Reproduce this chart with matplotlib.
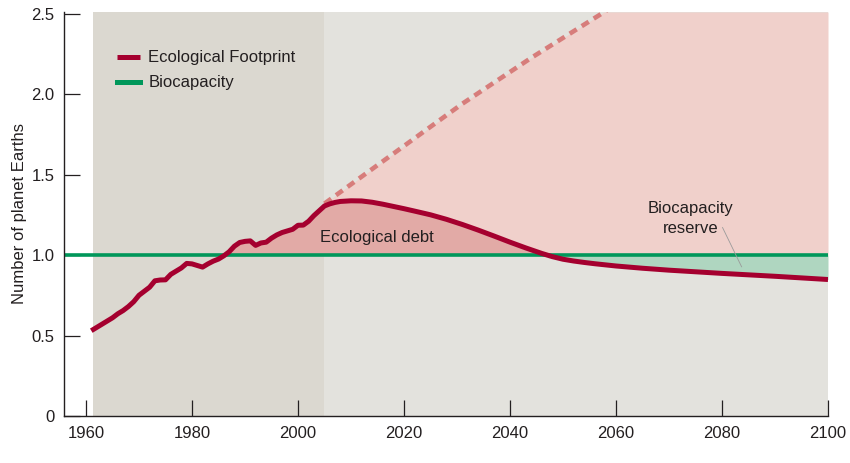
import matplotlib
matplotlib.use("Agg")
import matplotlib.pyplot as plt
import numpy as np

plt.rcParams['font.family'] = ['Liberation Sans', 'DejaVu Sans']

# ---- data ----
hist_years = [1961, 1962, 1963, 1964, 1965, 1966, 1967, 1968, 1969, 1970,
              1971, 1972, 1973, 1974, 1975, 1976, 1977, 1978, 1979, 1980,
              1981, 1982, 1983, 1984, 1985, 1986, 1987, 1988, 1989, 1990,
              1991, 1992, 1993, 1994, 1995, 1996, 1997, 1998, 1999, 2000,
              2001, 2002, 2003, 2004, 2005]
hist_values = [0.53, 0.55, 0.57, 0.59, 0.61, 0.635, 0.655, 0.68, 0.71, 0.75,
               0.775, 0.80, 0.84, 0.845, 0.846, 0.88, 0.90, 0.92, 0.948, 0.945,
               0.935, 0.925, 0.945, 0.962, 0.975, 0.995, 1.02, 1.055, 1.078, 1.085,
               1.088, 1.06, 1.075, 1.08, 1.105, 1.125, 1.14, 1.15, 1.16, 1.185,
               1.186, 1.21, 1.245, 1.275, 1.305]
proj_years = [2006, 2007, 2008, 2010, 2012, 2014, 2016, 2018, 2020, 2022,
              2025, 2028, 2031, 2034, 2037, 2040, 2043, 2046, 2048, 2050,
              2052, 2054, 2056, 2058, 2060, 2065, 2070, 2075, 2080, 2085,
              2090, 2095, 2100]
proj_values = [1.318, 1.327, 1.333, 1.337, 1.336, 1.328, 1.316, 1.302, 1.288, 1.273,
               1.25, 1.222, 1.19, 1.155, 1.118, 1.08, 1.044, 1.01, 0.99, 0.974,
               0.963, 0.954, 0.946, 0.939, 0.932, 0.918, 0.906, 0.896, 0.886, 0.877,
               0.868, 0.858, 0.848]
bau_years = [2005, 2018, 2031, 2044, 2057.3, 2060]
bau_values = [1.32, 1.63, 1.94, 2.225, 2.50, 2.56]
biocapacity = 1.0
history_span = (1961.3, 2005)
future_span = (2005, 2100)
x_ticks = [1960, 1980, 2000, 2020, 2040, 2060, 2080, 2100]
y_ticks = [0, 0.5, 1.0, 1.5, 2.0, 2.5]
y_ticklabels = ['0', '0.5', '1.0', '1.5', '2.0', '2.5']

# ---- colours ----
C_FOOT = '#a5002f'
C_GREEN = '#00975a'
C_DASH = '#d77d7b'
C_PINK_L = '#f0d0cb'
C_PINK_D = '#e2aaa6'
C_GREEN_F = '#afd6c0'
C_GREY_D = '#dbd8d0'
C_GREY_L = '#e3e2dd'
C_TEXT = '#231f20'
FS = 12

fig = plt.figure(figsize=(8.5, 4.63), dpi=100)
ax = fig.add_axes([64/850, 47/463, (828-64)/850, (416-12)/463])
ax.set_xlim(1955.85, 2100)
ax.set_ylim(0, 2.51)

ax.axvspan(*history_span, color=C_GREY_D, lw=0, zorder=0)
ax.axvspan(*future_span, color=C_GREY_L, lw=0, zorder=0)

years = np.array(hist_years + proj_years, dtype=float)
vals = np.array(hist_values + proj_values)

# fills
xf = np.linspace(2005, 2100, 1200)
foot_f = np.interp(xf, years, vals)
bau_f = np.interp(xf, bau_years, bau_values, right=9)
upper = np.minimum(bau_f, 2.51)
lower = np.maximum(foot_f, biocapacity)
ax.fill_between(xf, lower, upper, color=C_PINK_L, lw=0, zorder=1)

xd = np.linspace(1961, 2100, 3000)
foot_d = np.interp(xd, years, vals)
ax.fill_between(xd, biocapacity, foot_d, where=foot_d > biocapacity,
                interpolate=True, color=C_PINK_D, lw=0, zorder=1)
ax.fill_between(xd, foot_d, biocapacity, where=(foot_d < biocapacity) & (xd > 2030),
                interpolate=True, color=C_GREEN_F, lw=0, zorder=1)

# lines
ax.plot(bau_years, bau_values, color=C_DASH, lw=3.3, dashes=(1.8, 1.3), zorder=2)
ax.axhline(biocapacity, color=C_GREEN, lw=2.6, zorder=3, label='Biocapacity')
ax.plot(years, vals, color=C_FOOT, lw=3.6, zorder=4, solid_capstyle='butt',
        solid_joinstyle='round', label='Ecological Footprint')

# annotations
ax.text(2014.9, 1.11, 'Ecological debt', fontsize=FS, color=C_TEXT,
        ha='center', va='center', zorder=5)
ax.text(2074, 1.227, 'Biocapacity\nreserve', fontsize=FS, color=C_TEXT,
        ha='center', va='center', linespacing=1.35, zorder=5)
ax.plot([2080.1, 2083.7], [1.171, 0.927], color='#9a9a9a', lw=0.6, zorder=5)

# legend
h, l = ax.get_legend_handles_labels()
order = [l.index('Ecological Footprint'), l.index('Biocapacity')]
leg = ax.legend([h[i] for i in order], [l[i] for i in order], loc='upper left',
                bbox_to_anchor=(0.069, 0.905), frameon=False, fontsize=FS,
                handlelength=1.4, handletextpad=0.5, labelspacing=0.6,
                borderpad=0, borderaxespad=0)
for t in leg.get_texts():
    t.set_color(C_TEXT)
for lh in leg.get_lines():
    lh.set_linewidth(3.6)

# axes styling
for s in ['top', 'right']:
    ax.spines[s].set_visible(False)
for s in ['left', 'bottom']:
    ax.spines[s].set_linewidth(1.0)
    ax.spines[s].set_color(C_TEXT)
    ax.spines[s].set_zorder(6)
ax.set_xticks(x_ticks)
ax.set_yticks(y_ticks)
ax.set_yticklabels(y_ticklabels)
ax.tick_params(axis='both', direction='in', length=11.5, width=0.9, color=C_TEXT,
               labelsize=FS, labelcolor=C_TEXT, zorder=6)
ax.tick_params(axis='y', pad=7)
ax.tick_params(axis='x', pad=7)
ax.set_ylabel('Number of planet Earths', fontsize=12, color=C_TEXT, labelpad=3)
ax.set_axisbelow(False)

fig.savefig('out.png', dpi=100)
